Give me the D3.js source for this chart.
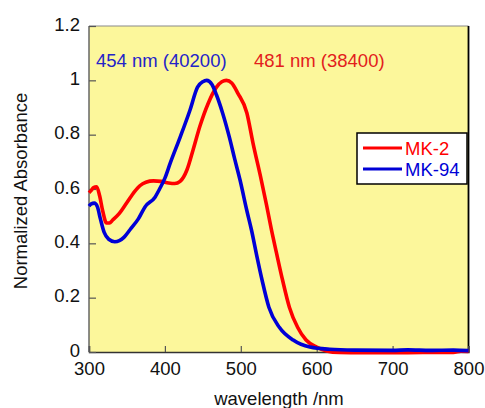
<!DOCTYPE html>
<html>
<head>
<meta charset="utf-8">
<script src="https://cdn.jsdelivr.net/npm/d3@7"></script>
<style>
  html, body { margin: 0; padding: 0; background: #fff; }
  svg { display: block; font-family: "Liberation Sans", Arial, sans-serif; }
</style>
</head>
<body>
<svg id="chart" width="485" height="408"></svg>
<script>
// Absorption spectra (normalized) of two dyes
const wlMK2 = [300, 303, 306, 310, 314, 318, 323, 327, 331, 340, 350, 360, 367, 375, 385, 395, 405, 413, 420, 429, 437, 446, 457, 468, 475, 481, 488, 496, 508, 516, 527, 534, 540, 547, 555, 564, 575, 586, 600, 613, 630, 660, 700, 740, 780, 790, 800];
const absMK2 = [0.586, 0.595, 0.605, 0.608, 0.575, 0.52, 0.475, 0.475, 0.485, 0.51, 0.55, 0.59, 0.612, 0.625, 0.63, 0.628, 0.622, 0.62, 0.628, 0.67, 0.743, 0.83, 0.915, 0.975, 0.995, 1.0, 0.99, 0.953, 0.88, 0.77, 0.633, 0.54, 0.455, 0.365, 0.265, 0.165, 0.09, 0.044, 0.018, 0.004, -0.002, -0.003, -0.003, -0.002, -0.002, 0.003, 0.002];

const wlMK94 = [300, 303, 307, 311, 315, 320, 326, 334, 340, 346, 354, 365, 374, 387, 393, 400, 407, 420, 433, 443, 450, 455, 462, 468, 476, 485, 492, 499, 508, 514, 521, 528, 537, 551, 569, 591, 617, 650, 700, 720, 750, 780, 800];
const absMK94 = [0.537, 0.545, 0.548, 0.535, 0.49, 0.44, 0.415, 0.406, 0.41, 0.422, 0.45, 0.49, 0.535, 0.57, 0.60, 0.64, 0.695, 0.79, 0.89, 0.975, 0.995, 1.0, 0.985, 0.946, 0.88, 0.79, 0.71, 0.633, 0.52, 0.45, 0.355, 0.265, 0.165, 0.09, 0.044, 0.018, 0.01, 0.007, 0.006, 0.008, 0.006, 0.007, 0.005];

const xTicks = [300, 400, 500, 600, 700, 800];
const yTicks = [0, 0.2, 0.4, 0.6, 0.8, 1, 1.2];

const seriesNames = ["MK-2", "MK-94"];
const seriesColors = ["#ff0000", "#0000d6"];
const peakLabels = ["481 nm (38400)", "454 nm (40200)"];
const peakLabelColors = ["#e3201c", "#2424c8"];

const svg = d3.select("#chart");
const plotL = 89, plotR = 468.5, plotT = 26, plotB = 352;

const x = d3.scaleLinear().domain([300, 800]).range([plotL, plotR]);
const y = d3.scaleLinear().domain([0, 1.2]).range([plotB, plotT]);

// plot area
svg.append("rect")
  .attr("x", plotL).attr("y", plotT)
  .attr("width", plotR - plotL).attr("height", plotB - plotT)
  .attr("fill", "#fcf79b");

// frame: light top/left, dark right/bottom
svg.append("line").attr("x1", plotL).attr("x2", plotR).attr("y1", plotT).attr("y2", plotT)
  .attr("stroke", "#8a8a8a").attr("stroke-width", 1.2);
svg.append("line").attr("x1", plotL).attr("x2", plotL).attr("y1", plotT).attr("y2", plotB)
  .attr("stroke", "#666").attr("stroke-width", 1.5);
svg.append("line").attr("x1", plotR).attr("x2", plotR).attr("y1", plotT).attr("y2", plotB)
  .attr("stroke", "#000").attr("stroke-width", 1.8);

// axes with inward ticks
const xAxis = d3.axisBottom(x).tickValues(xTicks).tickSize(-6).tickPadding(8)
  .tickFormat(d3.format("d"));
const gx = svg.append("g").attr("transform", `translate(0,${plotB})`).call(xAxis);
gx.select(".domain").attr("stroke", "#333").attr("stroke-width", 1.5);
gx.selectAll(".tick line").attr("stroke", "#555").attr("stroke-width", 1.2);
gx.selectAll(".tick text").attr("font-size", 18.5).attr("fill", "#111")
  .attr("font-family", "Liberation Sans, Arial, sans-serif").attr("dy", "0.8em");

const yAxis = d3.axisLeft(y).tickValues(yTicks).tickSize(-7).tickPadding(9)
  .tickFormat(d => String(+d.toFixed(1)));
const gy = svg.append("g").attr("transform", `translate(${plotL},0)`).call(yAxis);
gy.select(".domain").remove();
gy.selectAll(".tick line").attr("stroke", "#555").attr("stroke-width", 1.2);
gy.selectAll(".tick text").attr("font-size", 18.5).attr("fill", "#111")
  .attr("font-family", "Liberation Sans, Arial, sans-serif").attr("dy", "0.22em");

// spectra
const line = d3.line().curve(d3.curveMonotoneX).x(d => x(d[0])).y(d => y(d[1]));
const series = [d3.zip(wlMK2, absMK2), d3.zip(wlMK94, absMK94)];
series.forEach((s, i) => {
  svg.append("path").datum(s)
    .attr("d", line)
    .attr("fill", "none")
    .attr("stroke", seriesColors[i])
    .attr("stroke-width", 3.6)
    .attr("stroke-linejoin", "round");
});

// peak annotations
svg.append("text").attr("x", 254).attr("y", 67).attr("font-size", 18.5)
  .attr("fill", peakLabelColors[0]).text(peakLabels[0]);
svg.append("text").attr("x", 96).attr("y", 67).attr("font-size", 18.5)
  .attr("fill", peakLabelColors[1]).text(peakLabels[1]);

// legend
const lg = svg.append("g");
lg.append("rect").attr("x", 357).attr("y", 133).attr("width", 110).attr("height", 51)
  .attr("fill", "#fff").attr("stroke", "#000").attr("stroke-width", 1.5);
seriesNames.forEach((name, i) => {
  const ly = 148 + i * 21;
  lg.append("line").attr("x1", 363).attr("x2", 402).attr("y1", ly).attr("y2", ly)
    .attr("stroke", seriesColors[i]).attr("stroke-width", 3);
  lg.append("text").attr("x", 405).attr("y", ly + 7).attr("font-size", 18.5)
    .attr("fill", seriesColors[i]).text(name);
});

// axis titles
svg.append("text").attr("x", 279).attr("y", 405).attr("text-anchor", "middle")
  .attr("font-size", 18.5).attr("fill", "#111").text("wavelength /nm");
svg.append("text").attr("transform", "translate(27,191) rotate(-90)")
  .attr("text-anchor", "middle").attr("font-size", 18.5).attr("fill", "#111")
  .text("Normalized Absorbance");
</script>
</body>
</html>
